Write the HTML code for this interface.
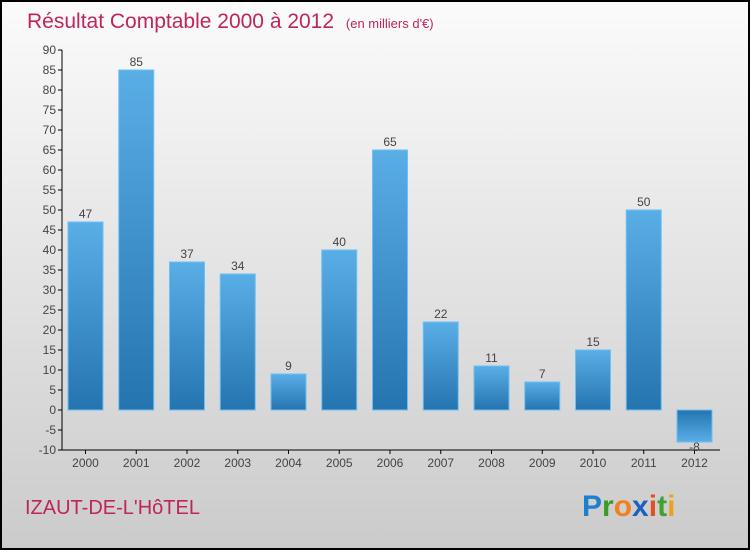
<!DOCTYPE html>
<html><head><meta charset="utf-8"><style>
body{margin:0}
svg text{font-family:"Liberation Sans",sans-serif}
</style></head><body>
<svg width="750" height="550" xmlns="http://www.w3.org/2000/svg">
<defs>
<linearGradient id="bg" x1="0" y1="0" x2="0" y2="1"><stop offset="0" stop-color="#fbfbfb"/><stop offset="1" stop-color="#cbcbcb"/></linearGradient>
<linearGradient id="gp" x1="0" y1="0" x2="0" y2="1"><stop offset="0" stop-color="#5aaee6"/><stop offset="1" stop-color="#2474b0"/></linearGradient>
<linearGradient id="gn" x1="0" y1="0" x2="0" y2="1"><stop offset="0" stop-color="#2474b0"/><stop offset="1" stop-color="#5aaee6"/></linearGradient>
</defs>
<rect x="1" y="1" width="748" height="548" fill="url(#bg)" stroke="#000" stroke-width="2"/>
<text x="27" y="28" font-size="21" fill="#c0245c">Résultat Comptable 2000 à 2012 <tspan font-size="13" dx="6">(en milliers d'€)</tspan></text>
<text x="25" y="514" font-size="20" fill="#c0245c">IZAUT-DE-L'HôTEL</text>
<text x="582" y="516" font-size="30" font-weight="bold"><tspan fill="#1e7fd0">P</tspan><tspan fill="#3a9a2a">r</tspan><tspan fill="#f08020">o</tspan><tspan fill="#1e60c0">x</tspan><tspan fill="#e05020">i</tspan><tspan fill="#40a030">t</tspan><tspan fill="#f0a020">i</tspan></text>
<g id="axes"></g><g id="bars"></g>
</svg>
<script>
const years=["2000","2001","2002","2003","2004","2005","2006","2007","2008","2009","2010","2011","2012"];
const values=[47,85,37,34,9,40,65,22,11,7,15,50,-8];
const yTicks=[-10,-5,0,5,10,15,20,25,30,35,40,45,50,55,60,65,70,75,80,85,90];
const NS="http://www.w3.org/2000/svg";
const y=v=>410-v*4;
const x=i=>85.5+i*50.75;
function mk(t,a,p){const e=document.createElementNS(NS,t);for(const k in a)e.setAttribute(k,a[k]);p.appendChild(e);return e;}
const ax=document.getElementById('axes'),bs=document.getElementById('bars');
let l=mk('line',{x1:62,y1:50,x2:62,y2:450,stroke:'#000'},ax);


l=mk('line',{x1:62,y1:450,x2:720,y2:450,stroke:'#000'},ax);


yTicks.forEach(v=>{
 mk('line',{x1:58,x2:62,y1:y(v),y2:y(v),stroke:'#000'},ax);
 const t=mk('text',{x:56,y:y(v)+4,'text-anchor':'end','font-size':12,fill:'#444'},ax);
 t.textContent=v;
 
 
});
years.forEach((yr,i)=>{
 mk('line',{x1:x(i),x2:x(i),y1:450,y2:454,stroke:'#000'},ax);
 const t=mk('text',{x:x(i),y:467,'text-anchor':'middle','font-size':12,fill:'#444'},ax);
 t.textContent=yr;
 
 
 const v=values[i];
 const top=Math.min(y(v),y(0)),h=Math.abs(y(v)-y(0));
 const r=mk('rect',{x:x(i)-17.5,y:top,width:35,height:h,fill:v>=0?'url(#gp)':'url(#gn)',stroke:'#6cc0f4','stroke-width':1},bs);
 
 
 const lb=mk('text',{x:x(i),y:v>=0?y(v)-4:y(v)+9,'text-anchor':'middle','font-size':12,fill:'#444'},bs);
 lb.textContent=v;
 
 
});
</script>
</body></html>
